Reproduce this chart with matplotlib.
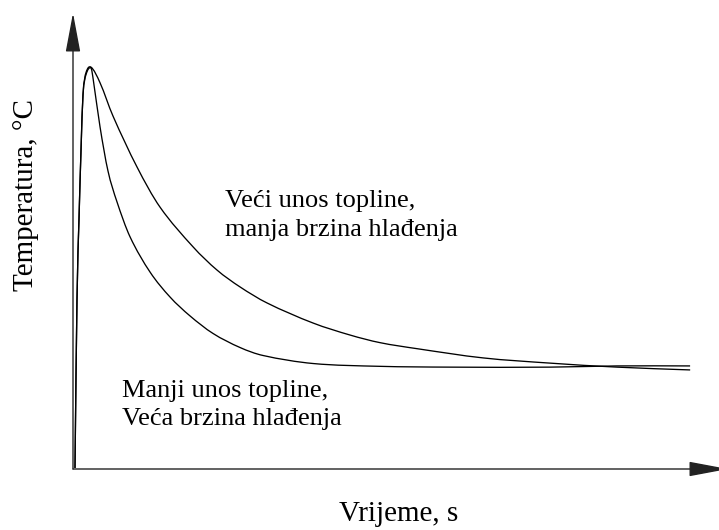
import matplotlib
matplotlib.use("Agg")
import matplotlib.pyplot as plt
import numpy as np
from matplotlib.path import Path
from matplotlib.patches import PathPatch

plt.rcParams['font.family'] = ['Liberation Serif', 'DejaVu Serif']

# time (arbitrary units) and temperature (arbitrary units, peak = 100)
t_fast = [0.31, 0.62, 0.93, 1.25, 1.56, 2.02, 2.80, 3.16, 4.21, 5.45, 6.81, 8.88,
          12.0, 15.1, 18.2, 21.8, 26.0, 29.6, 37.4, 47.8, 58.7, 74.3, 84.7, 96.1]
T_fast = [0.25, 42.1, 62.1, 79.6, 93.3, 98.3, 100.0, 97.0, 85.3, 74.3, 66.8, 57.9,
          49.1, 42.9, 38.2, 33.8, 30.3, 28.3, 26.3, 25.6, 25.4, 25.4, 25.7, 25.7]

t_slow = [0.31, 0.62, 0.93, 1.25, 1.56, 2.02, 2.80, 4.21, 6.23, 9.97, 13.55, 18.69,
          22.43, 26.01, 30.22, 37.38, 43.15, 47.82, 53.58, 63.86, 74.30, 84.74, 96.11]
T_slow = [0.25, 42.1, 62.1, 79.6, 93.5, 98.8, 100.2, 96.3, 88.0, 75.3, 65.3, 55.4,
          49.6, 45.4, 41.4, 36.4, 33.4, 31.5, 30.0, 27.7, 26.4, 25.4, 24.7]

label_slow = ["Veći unos topline,", "manja brzina hlađenja"]
label_fast = ["Manji unos topline,", "Veća brzina hlađenja"]
x_label = "Vrijeme, s"
y_label = "Temperatura, °C"


def smooth_path(xs, ys):
    # cubic Hermite through the points (x as parameter), drawn as Bezier segments
    x = np.asarray(xs, float)
    y = np.asarray(ys, float)
    m = np.empty_like(y)
    m[1:-1] = (y[2:] - y[:-2]) / (x[2:] - x[:-2])
    m[0] = (y[1] - y[0]) / (x[1] - x[0])
    m[-1] = (y[-1] - y[-2]) / (x[-1] - x[-2])
    verts = [(x[0], y[0])]
    codes = [Path.MOVETO]
    for i in range(len(x) - 1):
        h = x[i + 1] - x[i]
        verts += [(x[i] + h / 3, y[i] + m[i] * h / 3),
                  (x[i + 1] - h / 3, y[i + 1] - m[i + 1] * h / 3),
                  (x[i + 1], y[i + 1])]
        codes += [Path.CURVE4] * 3
    return Path(verts, codes)


W, H = 719, 530
fig = plt.figure(figsize=(W / 100, H / 100), dpi=100)
ax = fig.add_axes([73 / W, (H - 469) / H, (W - 73) / W, (469 - 13) / H])
ax.set_xlim(0, 100.6)
ax.set_ylim(0, 113.7)
ax.axis('off')

# curves
for xs, ys in [(t_fast, T_fast), (t_slow, T_slow)]:
    ax.add_patch(PathPatch(smooth_path(xs, ys), fill=False, edgecolor='black',
                           lw=0.95, joinstyle='round'))

# axes with arrows
arrow = dict(arrowstyle='-|>,head_length=2.45,head_width=0.46', mutation_scale=10,
             color='#222222', lw=1.0, shrinkA=0, shrinkB=0)
ax.annotate('', xy=(0, 113.7), xytext=(0, 0), arrowprops=arrow, annotation_clip=False)
ax.annotate('', xy=(102.0, 0), xytext=(0, 0), arrowprops=arrow, annotation_clip=False)


def px(x, y):
    return x / W, 1 - y / H


fs = 19
fig.text(*px(225, 207), label_slow[0], fontsize=fs, ha='left', va='baseline')
fig.text(*px(225, 236), label_slow[1], fontsize=fs, ha='left', va='baseline')
fig.text(*px(122, 397), label_fast[0], fontsize=fs, ha='left', va='baseline')
fig.text(*px(122, 425), label_fast[1], fontsize=fs, ha='left', va='baseline')

fig.text(*px(399, 521), x_label, fontsize=21, ha='center', va='baseline')
fig.text(*px(26, 195), y_label, fontsize=21, ha='center', va='center', rotation=90)

fig.savefig('out.png', dpi=100)
